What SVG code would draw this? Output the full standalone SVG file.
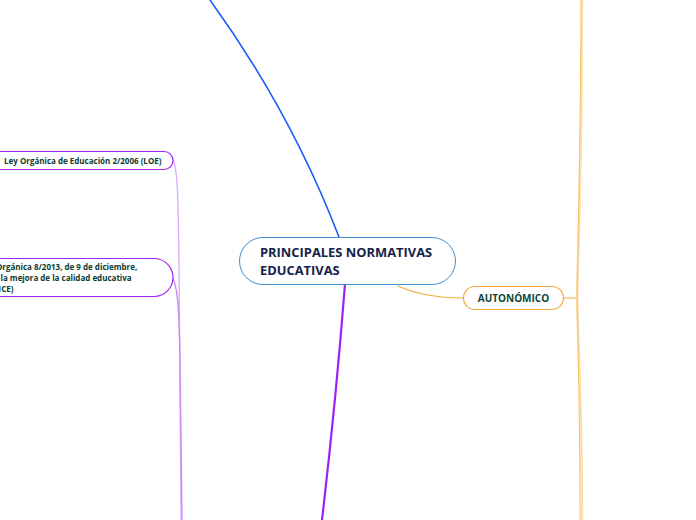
<svg xmlns="http://www.w3.org/2000/svg" width="696" height="520" viewBox="0 0 696 520">
<style>
.t{font-family:"Open Sans","Noto Sans","Liberation Sans",sans-serif;font-weight:700}
.node{fill:#ffffff}
.pl{fill:none;stroke-linecap:round}
</style>
<rect x="0" y="0" width="696" height="520" fill="#ffffff"/>
<g id="connectors">
  <path class="pl" d="M339,237 Q291,112 210,0" stroke="#1f5cf5" stroke-width="1.6"/>
  <path class="pl" d="M345,284 Q336,400 322,520" stroke="#9c1ff5" stroke-width="2.2"/>
  <path class="pl" d="M398,286 C418,295 440,298 463,298" stroke="#f7a93b" stroke-width="1.2"/>
  <path class="pl" d="M563,298 L577,298" stroke="#f7a93b" stroke-width="1.2"/>
  <path class="pl" d="M577,298 C580,200 582,80 582,0" stroke="#fde0b0" stroke-width="2.6"/>
  <path class="pl" d="M577,298 C579,200 581,80 581,0" stroke="#fbbf66" stroke-width="1"/>
  <path class="pl" d="M577,298 C580,380 582,460 582,520" stroke="#fde0b0" stroke-width="2.6"/>
  <path class="pl" d="M577,298 C579,380 580,460 580,520" stroke="#fbbf66" stroke-width="1"/>
  <path class="pl" d="M173,160 C178,170 178,200 179,260 C180,380 181,460 181,520" stroke="#dcb0ff" stroke-width="1.4"/>
  <path class="pl" d="M172,277 C177,285 179,300 180,360 C181,430 182,480 182,520" stroke="#c98af8" stroke-width="1.4"/>
</g>
<g id="central">
  <rect class="node" x="239.5" y="237.5" width="216" height="47" rx="23.5" stroke="#3f8fd2" stroke-width="1"/>
  <text class="t" x="260" y="257" font-size="12.9" fill="#132348">PRINCIPALES NORMATIVAS</text>
  <text class="t" x="260" y="275" font-size="12.9" fill="#132348">EDUCATIVAS</text>
</g>
<g id="autonomico">
  <rect class="node" x="463.5" y="286.5" width="100" height="23" rx="11.5" stroke="#f7a93b" stroke-width="1.2"/>
  <text class="t" x="513.5" y="302" font-size="10" fill="#0d4536" text-anchor="middle">AUTONÓMICO</text>
</g>
<g id="loe">
  <rect class="node" x="-20" y="151.5" width="193" height="18" rx="9" stroke="#a424f0" stroke-width="1.2"/>
  <text class="t" x="4" y="163.5" font-size="8" fill="#0d3b2e">Ley Orgánica de Educación 2/2006 (LOE)</text>
</g>
<g id="lomce">
  <rect class="node" x="-30" y="258.5" width="203" height="38" rx="19" stroke="#a424f0" stroke-width="1.2"/>
  <text class="t" x="-20" y="270" font-size="8" fill="#0d3b2e">Ley Orgánica 8/2013, de 9 de diciembre,</text>
  <text class="t" x="-20" y="281" font-size="8" fill="#0d3b2e">para la mejora de la calidad educativa</text>
  <text class="t" x="-20" y="292" font-size="8" fill="#0d3b2e">(LOMCE)</text>
</g>
</svg>
